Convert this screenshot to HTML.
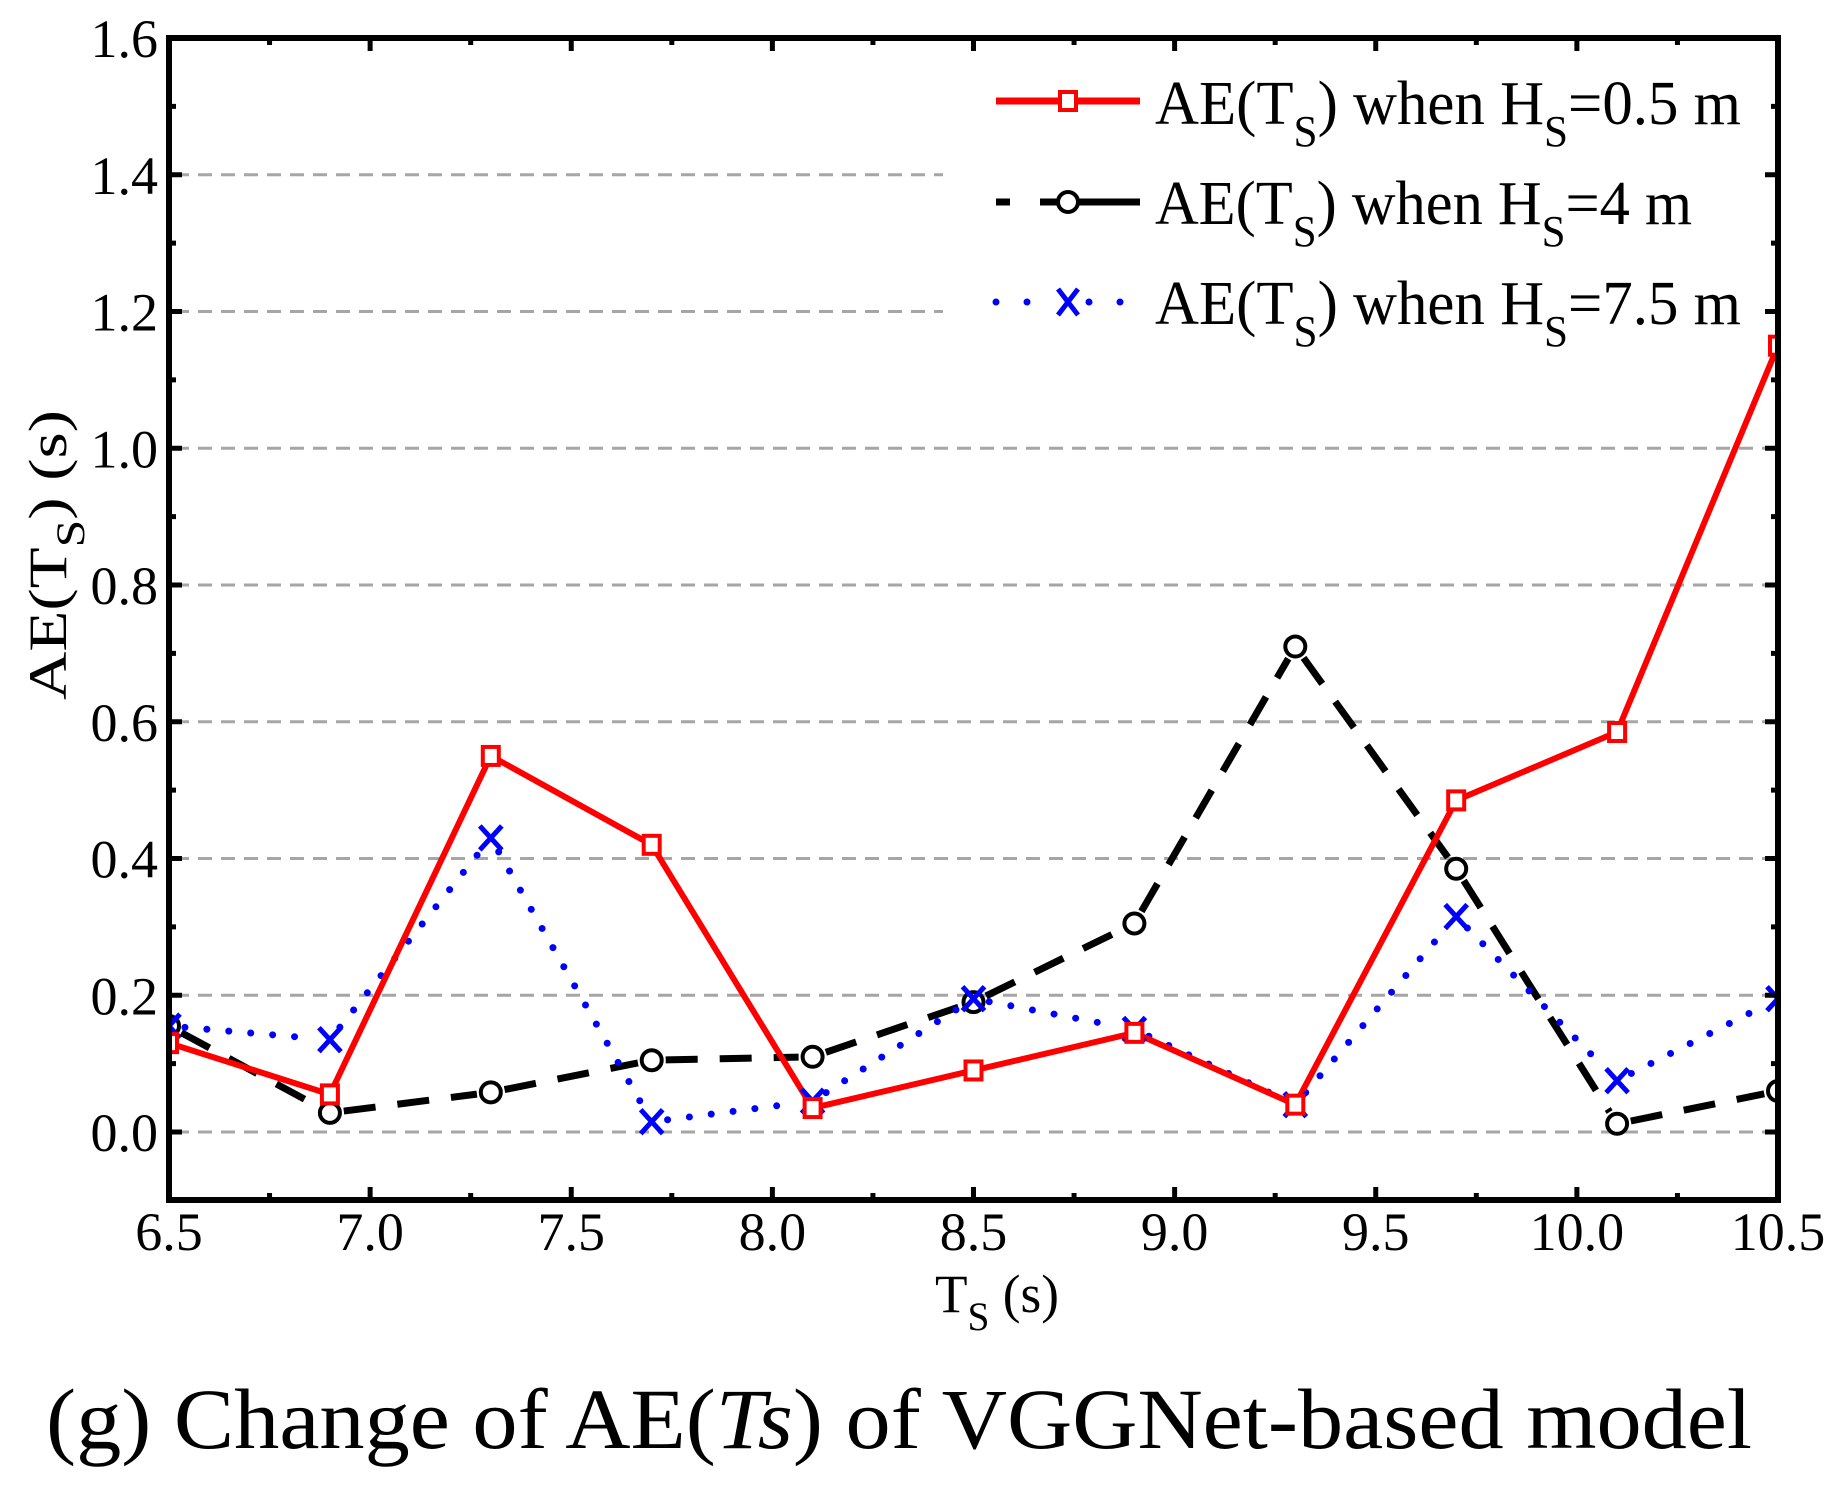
<!DOCTYPE html>
<html><head><meta charset="utf-8"><style>
html,body{margin:0;padding:0;background:#fff;}
svg{display:block;}
text{font-family:"Liberation Serif",serif;fill:#000;}
</style></head><body>
<svg id="s" width="1840" height="1492" xmlns="http://www.w3.org/2000/svg">
<defs><clipPath id="c"><rect x="169" y="38" width="1609" height="1162"/></clipPath></defs>
<g id="grid"></g>
<g id="series" clip-path="url(#c)"></g>
<rect x="169" y="38" width="1609" height="1162" fill="none" stroke="#000" stroke-width="6"/>
<g id="ticks"></g>
<g id="labels"></g>
<g>
<line x1="996" y1="101" x2="1140" y2="101" stroke="#f00" stroke-width="7"/>
<rect x="1060" y="92" width="16" height="18" fill="#fff" stroke="#f00" stroke-width="4"/>
<line x1="996" y1="202" x2="1140" y2="202" stroke="#000" stroke-width="7" stroke-dasharray="14,30,100"/>
<circle cx="1068" cy="202" r="10" fill="#fff" stroke="#000" stroke-width="4"/>
<line x1="996" y1="302" x2="1140" y2="302" stroke="#00f" stroke-width="7" stroke-linecap="round" stroke-dasharray="0,31"/>
<rect x="1052" y="288" width="32" height="28" fill="#fff"/>
<path d="M1058 289 L1078 315 M1078 289 L1058 315" stroke="#00f" stroke-width="5"/>
<text x="1155" y="124" font-size="62" textLength="586" lengthAdjust="spacingAndGlyphs">AE(T<tspan dy="22" font-size="44">S</tspan><tspan dy="-22">) when H</tspan><tspan dy="22" font-size="44">S</tspan><tspan dy="-22">=0.5 m</tspan></text>
<text x="1155" y="224" font-size="62" textLength="537" lengthAdjust="spacingAndGlyphs">AE(T<tspan dy="22" font-size="44">S</tspan><tspan dy="-22">) when H</tspan><tspan dy="22" font-size="44">S</tspan><tspan dy="-22">=4 m</tspan></text>
<text x="1155" y="324" font-size="62" textLength="586" lengthAdjust="spacingAndGlyphs">AE(T<tspan dy="22" font-size="44">S</tspan><tspan dy="-22">) when H</tspan><tspan dy="22" font-size="44">S</tspan><tspan dy="-22">=7.5 m</tspan></text>
</g>
<text x="935" y="1312" font-size="54" textLength="124" lengthAdjust="spacingAndGlyphs">T<tspan dy="18" font-size="40">S</tspan><tspan dy="-18"> (s)</tspan></text>
<text transform="translate(66,700) rotate(-90)" font-size="54" textLength="290" lengthAdjust="spacingAndGlyphs">AE(T<tspan dy="18" font-size="40">S</tspan><tspan dy="-18">) (s)</tspan></text>
<text x="46" y="1448" font-size="86" textLength="1706" lengthAdjust="spacingAndGlyphs">(g) Change of AE(<tspan font-style="italic">Ts</tspan>) of VGGNet-based model</text>
</svg>
<script>
const NS="http://www.w3.org/2000/svg";
function X(x){return 169+(x-6.5)*402.25;}
function Y(y){return 1132-y*683.75;}
function el(p,t,a,txt){const e=document.createElementNS(NS,t);for(const k in a)e.setAttribute(k,a[k]);if(txt!==undefined)e.textContent=txt;document.getElementById(p).appendChild(e);return e;}
for(let i=0;i<=7;i++){const v=i*0.2;const x2=(i>=6)?943:1772;
 el('grid','line',{x1:175,x2:x2,y1:Y(v),y2:Y(v),stroke:'#a6a6a6','stroke-width':3,'stroke-dasharray':'14,9'});}
for(let i=0;i<=16;i++){const x=X(6.5+i*0.25);const L=(i%2==0)?13:7;
 el('ticks','line',{x1:x,x2:x,y1:1200,y2:1200-L,stroke:'#000','stroke-width':5});
 el('ticks','line',{x1:x,x2:x,y1:38,y2:38+L,stroke:'#000','stroke-width':5});}
for(let i=-1;i<=16;i++){const y=Y(i*0.1);if(y<38||y>1200)continue;const L=(i%2==0)?13:7;
 el('ticks','line',{x1:169,x2:169+L,y1:y,y2:y,stroke:'#000','stroke-width':5});
 el('ticks','line',{x1:1778,x2:1778-L,y1:y,y2:y,stroke:'#000','stroke-width':5});}
for(let i=0;i<=8;i++){const v=6.5+i*0.5;
 el('labels','text',{x:X(v),y:1250,'font-size':54,'text-anchor':'middle'},v.toFixed(1));}
for(let i=0;i<=8;i++){const v=i*0.2;
 el('labels','text',{x:158,y:Y(v)+19,'font-size':54,'text-anchor':'end'},v.toFixed(1));}
const xs=[6.5,6.9,7.3,7.7,8.1,8.5,8.9,9.3,9.7,10.1,10.5];
const red=[0.13,0.055,0.55,0.42,0.035,0.09,0.145,0.04,0.485,0.585,1.15];
const blk=[0.155,0.028,0.058,0.105,0.11,0.19,0.305,0.71,0.385,0.012,0.06];
const blu=[0.155,0.135,0.43,0.015,0.045,0.195,0.15,0.04,0.315,0.075,0.195];
function pts(d){return xs.map((x,i)=>X(x)+','+Y(d[i])).join(' ');}
function segs(d,gap,attrs){for(let i=0;i<xs.length-1;i++){let x1=X(xs[i]),y1=Y(d[i]),x2=X(xs[i+1]),y2=Y(d[i+1]);
 const dx=x2-x1,dy=y2-y1,l=Math.hypot(dx,dy),ux=dx/l,uy=dy/l;
 el('series','line',Object.assign({x1:x1+ux*gap,y1:y1+uy*gap,x2:x2-ux*gap,y2:y2-uy*gap},attrs));}}
segs(blk,14,{stroke:'#000','stroke-width':7,'stroke-dasharray':'32,22'});
segs(blu,16,{stroke:'#00f','stroke-width':7,'stroke-linecap':'round','stroke-dasharray':'0,22'});
el('series','polyline',{points:pts(red),fill:'none',stroke:'#f00','stroke-width':6});
xs.forEach((x,i)=>{el('series','circle',{cx:X(x),cy:Y(blk[i]),r:10,fill:'#fff',stroke:'#000','stroke-width':4});});
xs.forEach((x,i)=>{const cx=X(x),cy=Y(blu[i]);el('series','path',{d:`M${cx-11} ${cy-12}L${cx+11} ${cy+12}M${cx+11} ${cy-12}L${cx-11} ${cy+12}`,stroke:'#00f','stroke-width':5});});
xs.forEach((x,i)=>{el('series','rect',{x:X(x)-8,y:Y(red[i])-9,width:16,height:18,fill:'#fff',stroke:'#f00','stroke-width':4});});
</script>
</body></html>
